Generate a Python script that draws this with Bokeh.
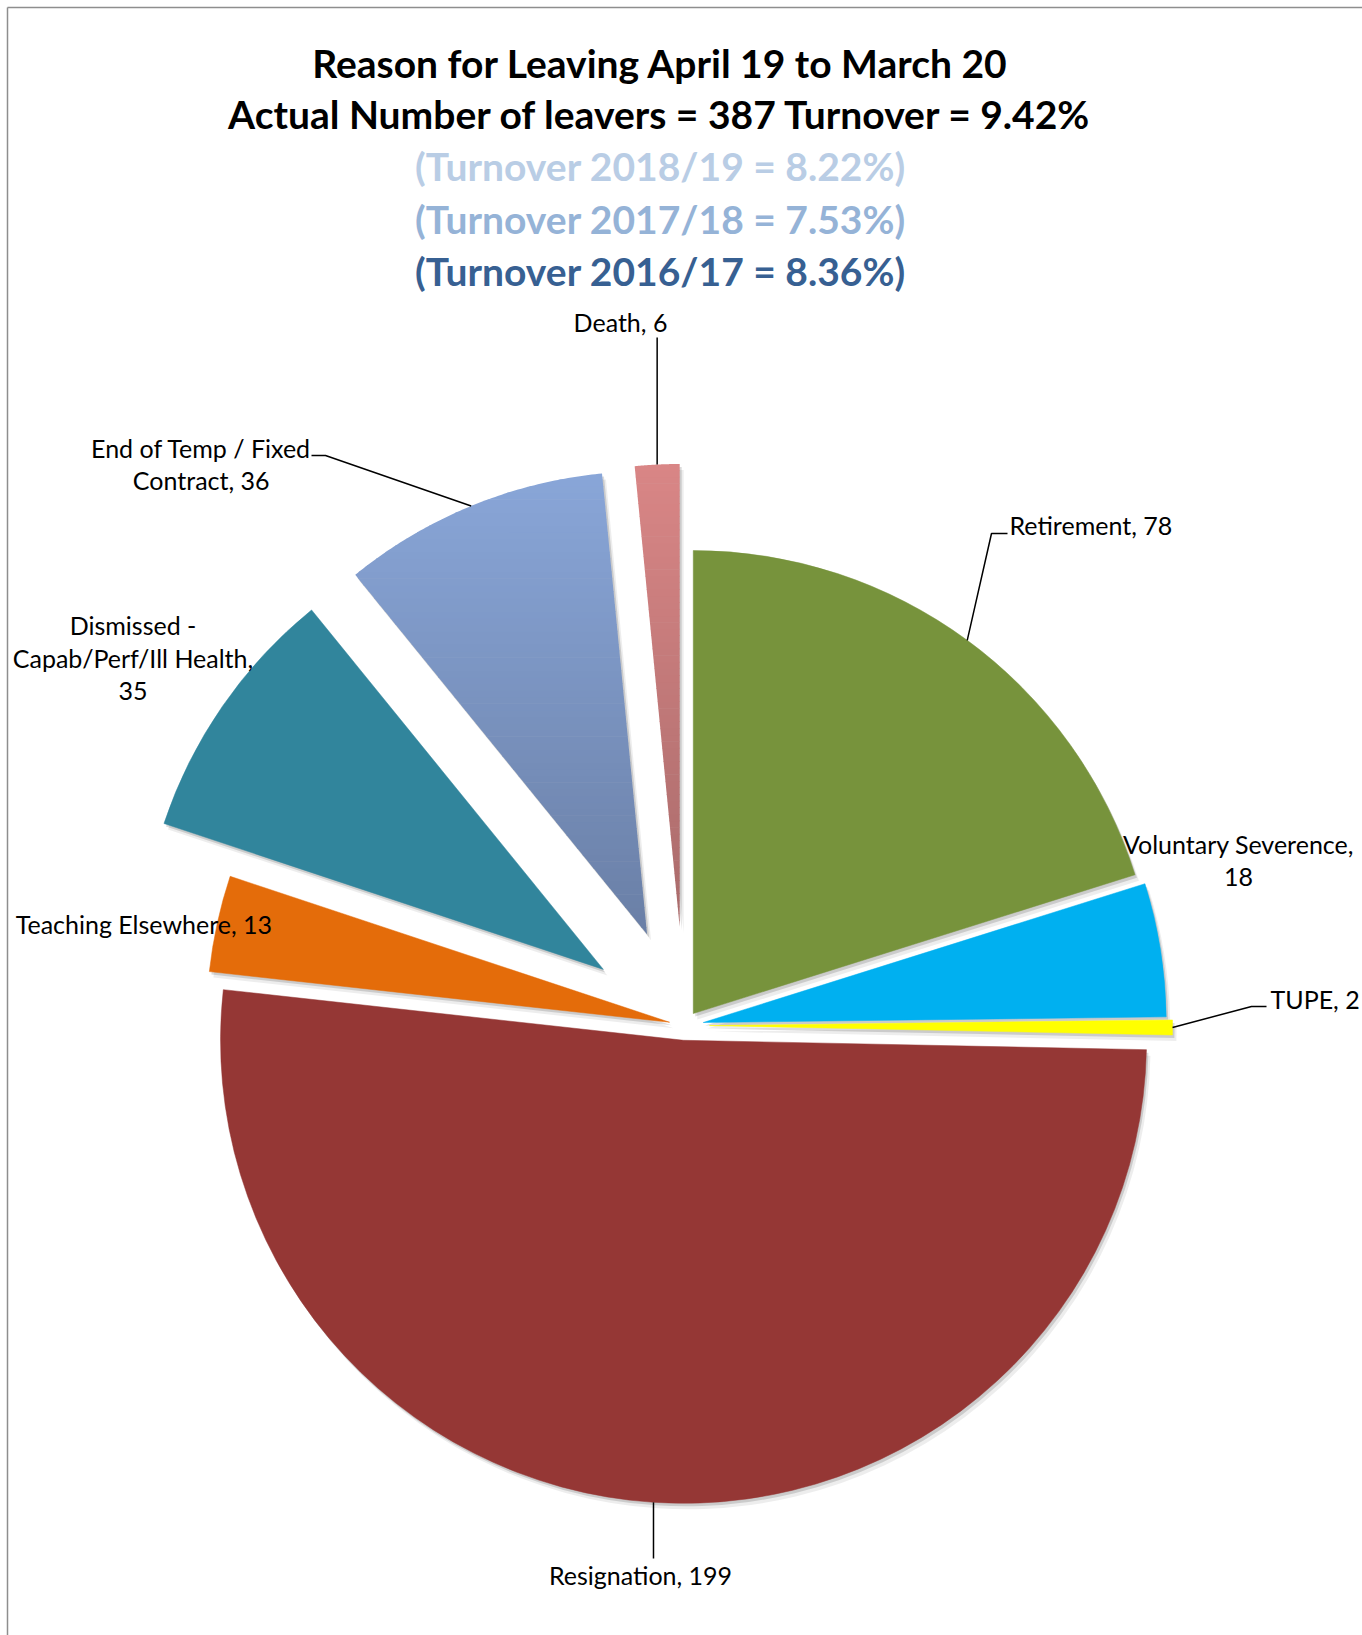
import numpy as np
from bokeh.plotting import figure
from bokeh.models import Range1d, ColumnDataSource
from bokeh.core.properties import value
from bokeh.embed import file_html
from bokeh.resources import INLINE

# ---------------- data ----------------
categories = ["Retirement", "Voluntary Severence", "TUPE", "Resignation",
              "Teaching Elsewhere", "Dismissed - Capab/Perf/Ill Health",
              "End of Temp / Fixed Contract", "Death"]
counts = [78, 18, 2, 199, 13, 35, 36, 6]
explode = [0.032, 0.041, 0.054, 0.032, 0.033, 0.213, 0.213, 0.213]
colors = ["#77933C", "#00B0F0", "#FFFF00", "#953735",
          "#E46C0A", "#31859C", None, None]
gradients = {6: ("#89A6D8", "#6A7FA6"), 7: ("#D98686", "#A96B6B")}

title_lines = ["Reason for Leaving April 19 to March 20",
               "Actual Number of leavers = 387 Turnover = 9.42%",
               "(Turnover 2018/19 = 8.22%)",
               "(Turnover 2017/18 = 7.53%)",
               "(Turnover 2016/17 = 8.36%)"]
title_colors = ["#000000", "#000000", "#B9CDE5", "#95B3D7", "#376092"]

label_lines = [["Retirement, 78"],
               ["Voluntary Severence,", "18"],
               ["TUPE, 2"],
               ["Resignation, 199"],
               ["Teaching Elsewhere, 13"],
               ["Dismissed -", "Capab/Perf/Ill Health,", "35"],
               ["End of Temp / Fixed", "Contract, 36"],
               ["Death, 6"]]

# ---------------- layout (page pixel coords) ----------------
W, H = 1362, 1635
def Y(py):
    return H - py

CX, CY, R = 684.0, Y(1025.0), 463.0
FONT = "Lato"

# label anchors: (x, first line page-y, align, line gap, leader elbow points or None)
label_pos = [
    (1009, 524.5, "left", 0, [(991, 533), (1007, 533)]),
    (1238, 843.6, "center", 32.4, None),
    (1270, 998, "left", 0, [(1251, 1006), (1266, 1006)]),
    (640, 1574.6, "center", 0, "vertical_to:1558"),
    (143.4, 923, "center", 0, None),
    (132.5, 624.6, "center", 32.7, None),
    (200.7, 447, "center", 32, [(325, 455), (311, 455)]),
    (620, 321, "center", 0, "vertical_to:337"),
]

p = figure(width=W, height=H, output_backend="svg", toolbar_location=None,
           x_range=Range1d(0, W), y_range=Range1d(0, H),
           min_border=0, outline_line_color=None)
p.axis.visible = False
p.grid.visible = False
p.background_fill_color = "white"
p.border_fill_color = "white"

# frame lines (left & top, as in the reference)
p.line([7, 7], [Y(7), Y(H)], line_color="#8E8E8E", line_width=1.5)
p.line([7, W], [Y(7), Y(7)], line_color="#8E8E8E", line_width=1.5)

# ---------------- pie geometry ----------------
total = float(sum(counts))
fr = np.array(counts) / total
cum = np.concatenate([[0], np.cumsum(fr)])
# clockwise from 12 o'clock -> math angles
start = np.pi / 2 - 2 * np.pi * cum[1:]
end = np.pi / 2 - 2 * np.pi * cum[:-1]
mid = (start + end) / 2
offs = np.array(explode) * R
xs = CX + offs * np.cos(mid)
ys = CY + offs * np.sin(mid)

# shadows
for dx, dy, a in [(4, -6, 0.07), (2, -3, 0.14)]:
    p.wedge(x=xs + dx, y=ys + dy, radius=R, start_angle=start, end_angle=end,
            fill_color="#000000", fill_alpha=a, line_color=None)

solid = [i for i in range(len(counts)) if colors[i] is not None]
src = ColumnDataSource(dict(x=xs[solid], y=ys[solid], s=start[solid], e=end[solid],
                            c=[colors[i] for i in solid]))
p.wedge(x="x", y="y", radius=R, start_angle="s", end_angle="e",
        fill_color="c", line_color="c", line_width=0.5, source=src)

def hex2rgb(h):
    h = h.lstrip("#")
    return np.array([int(h[i:i + 2], 16) for i in (0, 2, 4)], dtype=float)

def clip(pts, keep, inter):
    out = []
    n = len(pts)
    for i in range(n):
        cur, prev = pts[i], pts[i - 1]
        if keep(cur):
            if not keep(prev):
                out.append(inter(prev, cur))
            out.append(cur)
        elif keep(prev):
            out.append(inter(prev, cur))
    return out

def ix(yc):
    def f(a, b):
        t = (yc - a[1]) / (b[1] - a[1])
        return (a[0] + t * (b[0] - a[0]), yc)
    return f

for i, (ctop, cbot) in gradients.items():
    th = np.linspace(start[i], end[i], 80)
    poly = [(xs[i], ys[i])] + [(xs[i] + R * np.cos(t), ys[i] + R * np.sin(t)) for t in th]
    ymin = min(q[1] for q in poly)
    ymax = max(q[1] for q in poly)
    nb = 70
    edges = np.linspace(ymin, ymax, nb + 1)
    c0, c1 = hex2rgb(ctop), hex2rgb(cbot)
    bx, by, bc = [], [], []
    for k in range(nb):
        y0, y1 = edges[k], edges[k + 1] + 0.6
        q = clip(poly, lambda pt: pt[1] >= y0, ix(y0))
        if len(q) < 3:
            continue
        q = clip(q, lambda pt: pt[1] <= y1, ix(y1))
        if len(q) < 3:
            continue
        t = 1 - (k + 0.5) / nb
        c = c0 * (1 - t) + c1 * t
        col = "#%02x%02x%02x" % tuple(int(round(v)) for v in c)
        bx.append([pt[0] for pt in q])
        by.append([pt[1] for pt in q])
        bc.append(col)
    p.patches(bx, by, fill_color=bc, line_color=None)

# ---------------- title ----------------
title_y = [62.6, 113.7, 165.8, 218.0, 270.0]
p.text(x=[660] * 5, y=[Y(v) for v in title_y], text=title_lines,
       text_color=title_colors, text_font=value(FONT), text_font_style="bold",
       text_font_size="39px", text_align="center", text_baseline="middle")

# ---------------- labels & leaders ----------------
for i, lines in enumerate(label_lines):
    lx, ly, align, gap, leader = label_pos[i]
    for j, ln in enumerate(lines):
        p.text(x=[lx], y=[Y(ly + j * gap)], text=[ln], text_color="#000000",
               text_font=value(FONT), text_font_size="25px",
               text_align=align, text_baseline="middle")
    if leader is None:
        continue
    ax = xs[i] + R * np.cos(mid[i])
    ay = ys[i] + R * np.sin(mid[i])
    if isinstance(leader, str):
        ty = float(leader.split(":")[1])
        lxs, lys = [ax, ax], [ay, Y(ty)]
    else:
        lxs = [ax] + [q[0] for q in leader]
        lys = [ay] + [Y(q[1]) for q in leader]
    p.line(lxs, lys, line_color="#000000", line_width=1.5)

open("out.html", "w").write(file_html(p, INLINE))
